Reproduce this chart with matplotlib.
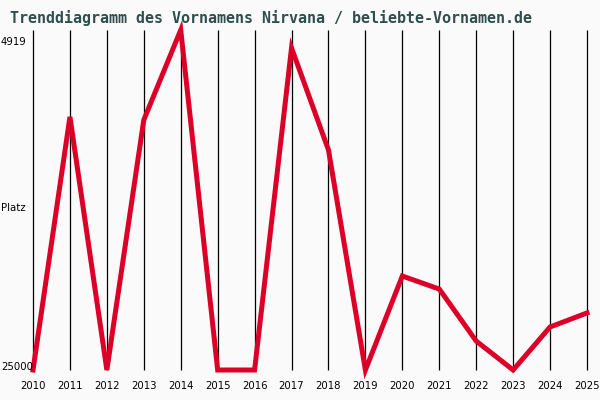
import matplotlib
matplotlib.use('Agg')
import matplotlib.pyplot as plt

# Data (rank per year, lower = more popular)
years = list(range(2010, 2026))
ranks = [25000, 10050, 25000, 10230, 4919, 25000, 25000, 5980,
         12000, 25000, 19450, 20220, 23290, 25000, 22460, 21630]
best_rank = 4919
worst_rank = 25000
title = "Trenddiagramm des Vornamens Nirvana / beliebte-Vornamen.de"

bg = '#fafafa'
fig = plt.figure(figsize=(6, 4), dpi=100, facecolor=bg)
ax = fig.add_axes([33 / 600, 1 - 370 / 400, 554 / 600, 340 / 400], facecolor=bg)

# vertical year lines
ax.vlines(years, worst_rank, best_rank, color='black', linewidth=0.9,
          zorder=1, clip_on=False)

ax.plot(years, ranks, color='#dc0028', linewidth=3.6, solid_joinstyle='miter',
        zorder=3, clip_on=False)

ax.set_xlim(years[0], years[-1])
ax.set_ylim(worst_rank, best_rank)
for s in ax.spines.values():
    s.set_visible(False)
ax.set_yticks([])
ax.set_xticks(years)
ax.set_xticklabels([str(y) for y in years], fontsize=7.3, family='DejaVu Sans')
ax.tick_params(axis='x', length=0, pad=8)

fig.text(1 / 600, 1 - 42 / 400, str(best_rank), fontsize=7.3, va='center', ha='left')
fig.text(1 / 600, 1 - 208 / 400, "Platz", fontsize=7.3, va='center', ha='left')
fig.text(1 / 600, 1 - 367 / 400, str(worst_rank), fontsize=7.3, va='center', ha='left')

fig.text(10 / 600, 1 - 18 / 400, title, fontsize=10.8, family='DejaVu Sans Mono',
         weight='bold', color='#2f4f4f', va='center', ha='left')

fig.savefig('out.png', dpi=100, facecolor=bg)
